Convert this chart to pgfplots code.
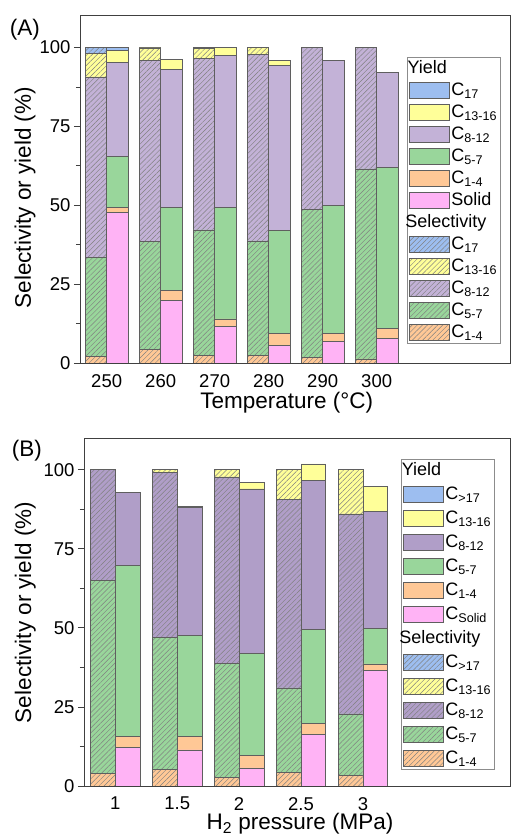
\documentclass[border=0pt]{standalone}
\usepackage{pgfplots}
\pgfplotsset{compat=1.18}
\usepackage{pgfplotstable}
\usepackage{fontspec}
\setmainfont{Liberation Sans}
\usetikzlibrary{patterns.meta}

\definecolor{cBlue}{RGB}{157,190,240}
\definecolor{cYel}{RGB}{255,255,153}
\definecolor{cPurA}{RGB}{195,178,215}
\definecolor{cPurB}{RGB}{176,158,200}
\definecolor{cGrn}{RGB}{153,214,155}
\definecolor{cOra}{RGB}{255,200,150}
\definecolor{cPnk}{RGB}{255,179,245}
\definecolor{edge}{RGB}{95,95,95}

% Panel A selectivity: C1-4, C5-7, C8-12, C13-16, C17
\pgfplotstableread{
x    a    b    c    d    e
-0.2 2.1 31.3 57.3 7.4 1.9
0.8  4.2 34.3 57.3 4.1 0.1
1.8  2.3 39.9 54.4 3.1 0.3
2.8  2.4 36.3 59.1 2.2 0.0
3.8  1.9 46.9 51.2 0.0 0.0
4.8  1.3 60.2 38.5 0.0 0.0
}\selA
% Panel A yield: Solid, C1-4, C5-7, C8-12, C13-16, C17
\pgfplotstableread{
x    s    a    b    c    d    e
0.2  47.8 1.5 16.2 29.7 4.0 0.8
1.2  19.8 3.2 26.2 43.8 3.2 0.0
2.2  11.7 2.3 35.2 48.2 2.6 0.0
3.2  5.5  4.0 32.5 52.3 1.6 0.0
4.2  6.9  2.4 40.7 45.8 0.0 0.0
5.2  7.8  3.1 51.0 30.1 0.0 0.0
}\yldA
% Panel B selectivity: C1-4, C5-7, C8-12, C13-16
\pgfplotstableread{
x    a    b    c    d
-0.2 4.0 60.9 35.1 0.0
0.8  5.2 41.7 52.3 0.8
1.8  2.6 36.1 59.0 2.3
2.8  4.4 26.6 59.5 9.5
3.8  3.4 19.4 63.2 14.0
}\selB
% Panel B yield: Solid, C1-4, C5-7, C8-12, C13-16
\pgfplotstableread{
x    s    a    b    c    d
0.2  12.1 3.6 54.1 22.9 0.0
1.2  11.4 4.3 32.0 40.4 0.4
2.2  5.7  3.9 32.3 52.0 2.0
3.2  16.2 3.7 29.5 47.3 5.1
4.2  36.6 2.0 11.3 36.9 7.8
}\yldB

\pgfplotsset{
  yb/.style={fill=#1, draw=edge, line width=0.6pt},
  sb/.style={fill=#1, draw=edge, line width=0.6pt,
     postaction={pattern={Lines[angle=45, distance=3.6pt, line width=0.45pt]},
                 pattern color=black!50}},
  common/.style={scale only axis, ymin=0, ymax=110,
     ybar stacked, bar width=0.4,
     /pgf/number format/assume math mode=true},
  panelA/.style={common, at={(80pt,-363pt)}, anchor=south west,
     width=430pt, height=347pt, xmin=-0.494, xmax=7.469},
  panelB/.style={common, at={(84pt,-786pt)}, anchor=south west,
     width=426pt, height=348pt, xmin=-0.506, xmax=6.376},
  frame/.style={
     axis on top, clip=false,
     axis line style={black!75, line width=1pt},
     tick align=outside,
     ytick={0,25,50,75,100},
     yticklabels={0,25,50,75,100},
     minor y tick num=1,
     major tick length=6pt, minor tick length=4pt,
     ytick pos=left, xtick pos=bottom,
     major x tick style={draw=none},
     tick style={black!75, line width=0.8pt},
     tick label style={font=\fontsize{18.5}{20}\selectfont},
     xticklabel style={inner sep=1pt, yshift=-4pt},
     label style={font=\fontsize{22.5}{24}\selectfont, inner sep=1pt},
     legend cell align=left,
     legend image code/.code={\draw[##1] (0pt,-8pt) rectangle (40pt,8pt);},
  },
}

\begin{document}
\begin{tikzpicture}
\path[use as bounding box] (0,0) rectangle (511pt,-834pt);

% ---------------- Panel A ----------------
\begin{axis}[panelA, hide axis]
\addplot[sb=cOra, forget plot] table[x=x,y=a]{\selA};
\addplot[sb=cGrn, forget plot] table[x=x,y=b]{\selA};
\addplot[sb=cPurA, forget plot] table[x=x,y=c]{\selA};
\addplot[sb=cYel, forget plot] table[x=x,y=d]{\selA};
\addplot[sb=cBlue, forget plot] table[x=x,y=e]{\selA};
\end{axis}

\begin{axis}[panelA, frame,
  xtick={0,1,2,3,4,5},
  xticklabels={250,260,270,280,290,300},
  xlabel={Temperature (°C)},
  ylabel={Selectivity or yield (\%)},
  xlabel style={at={(axis description cs:0.481,0)}, anchor=center, yshift=-40pt},
  ylabel style={at={(axis description cs:-0.128,0.476)}, anchor=center},
  legend style={at={(axis description cs:0.760,0.882)}, anchor=north west,
     draw=black!45, line width=0.8pt, fill=white,
     font=\fontsize{18}{20}\selectfont, row sep=1.5pt,
     inner xsep=2pt, inner ysep=1pt,
     nodes={inner sep=1.5pt, text height=13.5pt, text depth=4pt}},
]
\addplot[yb=cPnk, forget plot] table[x=x,y=s]{\yldA};
\addplot[yb=cOra, forget plot] table[x=x,y=a]{\yldA};
\addplot[yb=cGrn, forget plot] table[x=x,y=b]{\yldA};
\addplot[yb=cPurA, forget plot] table[x=x,y=c]{\yldA};
\addplot[yb=cYel, forget plot] table[x=x,y=d]{\yldA};
\addplot[yb=cBlue, forget plot] table[x=x,y=e]{\yldA};

\addlegendimage{empty legend}\addlegendentry{\hspace*{-46pt}Yield}
\addlegendimage{yb=cBlue}\addlegendentry{C\textsubscript{17}}
\addlegendimage{yb=cYel}\addlegendentry{C\textsubscript{13-16}}
\addlegendimage{yb=cPurA}\addlegendentry{C\textsubscript{8-12}}
\addlegendimage{yb=cGrn}\addlegendentry{C\textsubscript{5-7}}
\addlegendimage{yb=cOra}\addlegendentry{C\textsubscript{1-4}}
\addlegendimage{yb=cPnk}\addlegendentry{Solid}
\addlegendimage{empty legend}\addlegendentry{\hspace*{-46pt}Selectivity}
\addlegendimage{sb=cBlue}\addlegendentry{C\textsubscript{17}}
\addlegendimage{sb=cYel}\addlegendentry{C\textsubscript{13-16}}
\addlegendimage{sb=cPurA}\addlegendentry{C\textsubscript{8-12}}
\addlegendimage{sb=cGrn}\addlegendentry{C\textsubscript{5-7}}
\addlegendimage{sb=cOra}\addlegendentry{C\textsubscript{1-4}}

\node[font=\fontsize{22.5}{24}\selectfont] at (axis description cs:-0.128,0.960) {(A)};
\end{axis}

% ---------------- Panel B ----------------
\begin{axis}[panelB, hide axis]
\addplot[sb=cOra, forget plot] table[x=x,y=a]{\selB};
\addplot[sb=cGrn, forget plot] table[x=x,y=b]{\selB};
\addplot[sb=cPurB, forget plot] table[x=x,y=c]{\selB};
\addplot[sb=cYel, forget plot] table[x=x,y=d]{\selB};
\end{axis}

\begin{axis}[panelB, frame,
  xtick={0,1,2,3,4},
  xticklabels={1,1.5,2,2.5,3},
  xlabel={H\textsubscript{2} pressure (MPa)},
  ylabel={Selectivity or yield (\%)},
  xlabel style={at={(axis description cs:0.507,0)}, anchor=center, yshift=-38pt},
  ylabel style={at={(axis description cs:-0.138,0.499)}, anchor=center},
  legend style={at={(axis description cs:0.744,0.940)}, anchor=north west,
     draw=black!45, line width=0.8pt, fill=white,
     font=\fontsize{18}{20}\selectfont, row sep=3.5pt,
     inner xsep=2pt, inner ysep=1pt,
     nodes={inner sep=1.5pt, text height=13.5pt, text depth=4pt}},
]
\addplot[yb=cPnk, forget plot] table[x=x,y=s]{\yldB};
\addplot[yb=cOra, forget plot] table[x=x,y=a]{\yldB};
\addplot[yb=cGrn, forget plot] table[x=x,y=b]{\yldB};
\addplot[yb=cPurB, forget plot] table[x=x,y=c]{\yldB};
\addplot[yb=cYel, forget plot] table[x=x,y=d]{\yldB};

\addlegendimage{empty legend}\addlegendentry{\hspace*{-46pt}Yield}
\addlegendimage{yb=cBlue}\addlegendentry{C\textsubscript{>17}}
\addlegendimage{yb=cYel}\addlegendentry{C\textsubscript{13-16}}
\addlegendimage{yb=cPurB}\addlegendentry{C\textsubscript{8-12}}
\addlegendimage{yb=cGrn}\addlegendentry{C\textsubscript{5-7}}
\addlegendimage{yb=cOra}\addlegendentry{C\textsubscript{1-4}}
\addlegendimage{yb=cPnk}\addlegendentry{C\textsubscript{Solid}}
\addlegendimage{empty legend}\addlegendentry{\hspace*{-46pt}Selectivity}
\addlegendimage{sb=cBlue}\addlegendentry{C\textsubscript{>17}}
\addlegendimage{sb=cYel}\addlegendentry{C\textsubscript{13-16}}
\addlegendimage{sb=cPurB}\addlegendentry{C\textsubscript{8-12}}
\addlegendimage{sb=cGrn}\addlegendentry{C\textsubscript{5-7}}
\addlegendimage{sb=cOra}\addlegendentry{C\textsubscript{1-4}}

\node[font=\fontsize{22.5}{24}\selectfont] at (axis description cs:-0.134,0.963) {(B)};
\end{axis}
\end{tikzpicture}
\end{document}
